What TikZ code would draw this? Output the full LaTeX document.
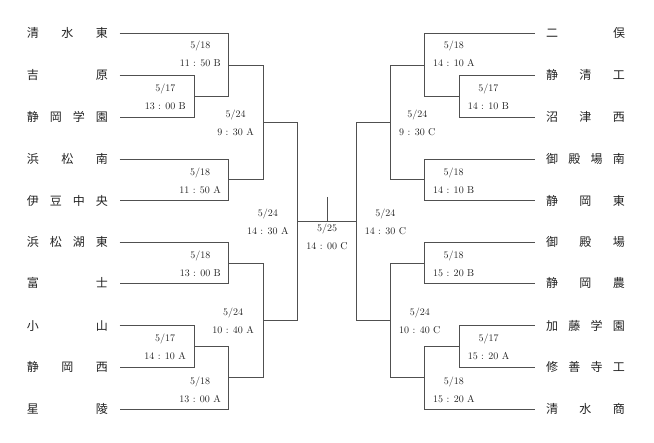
\documentclass[tikz,border=0pt]{standalone}
\usepackage{fontspec}
\usepackage{tikz}
\newfontfamily\jpfont{Noto Sans CJK JP}
\definecolor{rule}{HTML}{505050}
\definecolor{ink}{HTML}{222222}
\newcommand\westname[1]{\makebox[81pt]{#1}}
\newcommand\eastname[1]{\makebox[79pt]{#1}}

\begin{document}
\begin{tikzpicture}[x=1pt,y=-1pt,
  team/.style={inner sep=0pt,outer xsep=11.5pt,text=ink,font=\jpfont\fontsize{12}{12}\selectfont},
  sched/.style={inner sep=0pt,align=center,text=ink,font=\fontsize{10}{18}\selectfont},
  bracket/.style={draw=rule,line width=0.7pt}]
\useasboundingbox (0,0) rectangle (654,443);
% left half
\node[team] (t1) at (67.5,33.3) {\westname{清\hfill 水\hfill 東}};
\node[team] (t2) at (67.5,75.3) {\westname{吉\hfill 原}};
\node[team] (t3) at (67.5,117.3) {\westname{静\hfill 岡\hfill 学\hfill 園}};
\node[team] (t4) at (67.5,159) {\westname{浜\hfill 松\hfill 南}};
\node[team] (t5) at (67.5,200.7) {\westname{伊\hfill 豆\hfill 中\hfill 央}};
\node[team] (t6) at (67.5,242.3) {\westname{浜\hfill 松\hfill 湖\hfill 東}};
\node[team] (t7) at (67.5,283.3) {\westname{富\hfill 士}};
\node[team] (t8) at (67.5,325.7) {\westname{小\hfill 山}};
\node[team] (t9) at (67.5,367) {\westname{静\hfill 岡\hfill 西}};
\node[team] (t10) at (67.5,409) {\westname{星\hfill 陵}};
\coordinate (a1) at (194.3,96.7);
\coordinate (a2) at (228.7,65.3);
\coordinate (a3) at (228.7,179);
\coordinate (a4) at (263.3,122.3);
\coordinate (a5) at (228.7,263.3);
\coordinate (a6) at (194.3,346.7);
\coordinate (a7) at (228.7,377.3);
\coordinate (a8) at (263.3,320);
\coordinate (a9) at (297.7,221);
\draw[bracket] (t2.east) -| (a1) |- (t3.east);
\draw[bracket] (t1.east) -| (a2) |- (a1);
\draw[bracket] (t4.east) -| (a3) |- (t5.east);
\draw[bracket] (a2) -| (a4) |- (a3);
\draw[bracket] (t6.east) -| (a5) |- (t7.east);
\draw[bracket] (t8.east) -| (a6) |- (t9.east);
\draw[bracket] (a6) -| (a7) |- (t10.east);
\draw[bracket] (a5) -| (a8) |- (a7);
\draw[bracket] (a4) -| (a9) |- (a8);
\node[sched,anchor=east] (ga1) at (186,97) {5/17\\13 : 00 B};
\node[sched,anchor=east] (ga2) at (221,53.5) {5/18\\11 : 50 B};
\node[sched,anchor=east] (ga3) at (221,180.5) {5/18\\11 : 50 A};
\node[sched,anchor=east] (ga4) at (254,122.7) {5/24\\9 : 30 A};
\node[sched,anchor=east] (ga5) at (221,263.5) {5/18\\13 : 00 B};
\node[sched,anchor=east] (ga6) at (186,346.7) {5/17\\14 : 10 A};
\node[sched,anchor=east] (ga7) at (221,389.5) {5/18\\13 : 00 A};
\node[sched,anchor=east] (ga8) at (254,321) {5/24\\10 : 40 A};
\node[sched,anchor=east] (ga9) at (288.7,221.8) {5/24\\14 : 30 A};
% right half
\node[team] (s1) at (585.5,33.3) {\eastname{二\hfill 俣}};
\node[team] (s2) at (585.5,75.3) {\eastname{静\hfill 清\hfill 工}};
\node[team] (s3) at (585.5,117.3) {\eastname{沼\hfill 津\hfill 西}};
\node[team] (s4) at (585.5,159) {\eastname{御\hfill 殿\hfill 場\hfill 南}};
\node[team] (s5) at (585.5,200.7) {\eastname{静\hfill 岡\hfill 東}};
\node[team] (s6) at (585.5,242.3) {\eastname{御\hfill 殿\hfill 場}};
\node[team] (s7) at (585.5,283.3) {\eastname{静\hfill 岡\hfill 農}};
\node[team] (s8) at (585.5,325.7) {\eastname{加\hfill 藤\hfill 学\hfill 園}};
\node[team] (s9) at (585.5,367) {\eastname{修\hfill 善\hfill 寺\hfill 工}};
\node[team] (s10) at (585.5,409) {\eastname{清\hfill 水\hfill 商}};
\coordinate (b1) at (459.3,96.3);
\coordinate (b2) at (424.7,65.3);
\coordinate (b3) at (424.7,179.3);
\coordinate (b4) at (390.7,122.3);
\coordinate (b5) at (424.7,263.3);
\coordinate (b6) at (459.3,346.3);
\coordinate (b7) at (424.7,377);
\coordinate (b8) at (390.7,320);
\coordinate (b9) at (356.3,221);
\draw[bracket] (s2.west) -| (b1) |- (s3.west);
\draw[bracket] (s1.west) -| (b2) |- (b1);
\draw[bracket] (s4.west) -| (b3) |- (s5.west);
\draw[bracket] (b2) -| (b4) |- (b3);
\draw[bracket] (s6.west) -| (b5) |- (s7.west);
\draw[bracket] (s8.west) -| (b6) |- (s9.west);
\draw[bracket] (b6) -| (b7) |- (s10.west);
\draw[bracket] (b5) -| (b8) |- (b7);
\draw[bracket] (b4) -| (b9) |- (b8);
\node[sched,anchor=west] (gb1) at (467.7,97) {5/17\\14 : 10 B};
\node[sched,anchor=west] (gb2) at (433,53.5) {5/18\\14 : 10 A};
\node[sched,anchor=west] (gb3) at (433,180.5) {5/18\\14 : 10 B};
\node[sched,anchor=west] (gb4) at (399,123) {5/24\\9 : 30 C};
\node[sched,anchor=west] (gb5) at (433,263.5) {5/18\\15 : 20 B};
\node[sched,anchor=west] (gb6) at (467.7,346.7) {5/17\\15 : 20 A};
\node[sched,anchor=west] (gb7) at (433,389.5) {5/18\\15 : 20 A};
\node[sched,anchor=west] (gb8) at (399,321) {5/24\\10 : 40 C};
\node[sched,anchor=west] (gb9) at (364.7,221.7) {5/24\\14 : 30 C};
% final
\coordinate (top) at (327,197);
\draw[bracket] (a9) -- (b9);
\draw[bracket] (top) -- (top |- a9);
\node[sched] (fin) at (327,237.3) {5/25\\14 : 00 C};
\end{tikzpicture}
\end{document}
